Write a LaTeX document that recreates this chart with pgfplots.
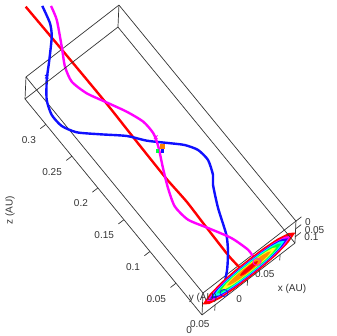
\documentclass[border=0pt]{standalone}
\usepackage{pgfplots}
\usepackage{fontspec}
\setmainfont{Liberation Sans}
\pgfplotsset{compat=1.18}
\definecolor{frame}{HTML}{333333}
\definecolor{cred}{HTML}{FF0000}
\definecolor{cblue}{HTML}{1010FF}
\definecolor{cmag}{HTML}{FF00FF}
\definecolor{ccyan}{HTML}{00FFFF}
\definecolor{cgreen}{HTML}{00FF40}
\definecolor{lev6}{HTML}{FFFF20}
\definecolor{lev7}{HTML}{FF9000}
\begin{document}
\begin{tikzpicture}[x=1pt,y=1pt]
\useasboundingbox (0,0) rectangle (336,336);
\begin{axis}[anchor=origin,at={(248.5pt,78.2pt)},
 x={(650pt,503pt)},y={(-7pt,-157pt)},z={(-520.6pt,635.3pt)},
 xmin=-0.07,xmax=0.073,ymin=0,ymax=0.14,zmin=0,zmax=0.34,
 axis lines=box,3d box=complete,clip=false,unbounded coords=jump,
 scaled ticks=false,
 axis line style={frame,line width=0.7pt},
 tick style={draw=none},tick align=outside,major tick length=7pt,
 xtick={-0.05,0,0.05},xticklabels={0.05,0,0.05},
 ytick={0,0.05,0.1},yticklabels={0,0.05,0.1},
 ztick={0,0.05,0.1,0.15,0.2,0.25,0.3},zticklabels={0,0.05,0.1,0.15,0.2,0.25,0.3},
 tick label style={font=\fontsize{10}{10}\selectfont,text=frame,inner sep=0pt},
 x tick label style={anchor=east,xshift=-5pt,yshift=-12pt},
 y tick label style={anchor=west,xshift=3.5pt,yshift=-5pt},
 z tick label style={anchor=east,xshift=-9.5pt,yshift=-8.5pt},
]
% tick marks
\addplot3[frame,line width=0.7pt,forget plot] coordinates {
(-0.05,0.14,0) (-0.05,0.177,0) (nan,nan,nan) (0,0.14,0) (0,0.177,0) (nan,nan,nan) (0.05,0.14,0) (0.05,0.177,0)};
\addplot3[frame,line width=0.7pt,forget plot] coordinates {
(0.073,0,0) (0.0815,0,0) (nan,nan,nan) (0.073,0.05,0) (0.0815,0.05,0) (nan,nan,nan) (0.073,0.1,0) (0.0815,0.1,0)};
\addplot3[frame,line width=0.7pt,forget plot] coordinates {
(-0.07,0.14,0.05) (-0.0785,0.14,0.05) (nan,nan,nan) (-0.07,0.14,0.1) (-0.0785,0.14,0.1) (nan,nan,nan)
(-0.07,0.14,0.15) (-0.0785,0.14,0.15) (nan,nan,nan) (-0.07,0.14,0.2) (-0.0785,0.14,0.2) (nan,nan,nan)
(-0.07,0.14,0.25) (-0.0785,0.14,0.25) (nan,nan,nan) (-0.07,0.14,0.3) (-0.0785,0.14,0.3)};
% curves, read off the projection (plane y=0.07)
\addplot3[cred,line width=2.4pt,smooth,tension=0.4] coordinates {
(-0.0071,0.07,0.4182) (-0.0062,0.07,0.3482) (-0.0057,0.07,0.2675) (-0.0066,0.07,0.2127)
(-0.0072,0.07,0.1664) (-0.0073,0.07,0.1445) (-0.0060,0.07,0.1100) (-0.0070,0.07,0.0777)
(-0.0082,0.07,0.0282) (-0.0071,0.07,0.0084) (-0.0070,0.07,0)};
\addplot3[cblue,line width=2.4pt,smooth,tension=0.4] coordinates {
(0.0091,0.07,0.4065) (0.0030,0.07,0.3841) (-0.0057,0.07,0.3699) (-0.0260,0.07,0.3492)
(-0.0438,0.07,0.3319) (-0.0593,0.07,0.3126) (-0.0661,0.07,0.2945) (-0.0652,0.07,0.2764)
(-0.0560,0.07,0.2592) (-0.0356,0.07,0.2399) (-0.0117,0.07,0.2183) (0.0035,0.07,0.1989)
(0.0217,0.07,0.1808) (0.0359,0.07,0.1664) (0.0446,0.07,0.1517) (0.0463,0.07,0.1346)
(0.0394,0.07,0.1164) (0.0319,0.07,0.1071) (0.0187,0.07,0.0809) (0.0059,0.07,0.0490)
(-0.0053,0.07,0.0318) (-0.0189,0.07,0.0162) (-0.0298,0.07,0.0064) (-0.0376,0.07,0.0011)};
\addplot3[cmag,line width=2.4pt,smooth,tension=0.4] coordinates {
(0.0173,0.07,0.4000) (0.0119,0.07,0.3822) (-0.0040,0.07,0.3528) (-0.0164,0.07,0.3311)
(-0.0216,0.07,0.3116) (-0.0165,0.07,0.2893) (-0.0057,0.07,0.2675) (0.0070,0.07,0.2417)
(0.0149,0.07,0.2197) (0.0154,0.07,0.2011) (0.0098,0.07,0.1845) (-0.0023,0.07,0.1605)
(-0.0130,0.07,0.1375) (-0.0208,0.07,0.1148) (-0.0186,0.07,0.0920) (-0.0062,0.07,0.0691)
(0.0080,0.07,0.0421) (0.0147,0.07,0.0184) (0.0140,0.07,0.0059) (0.0139,0.07,0)};
% filled contours on the floor
\addplot3[fill=cred,draw=none] coordinates {
(-0.0700,0.073,0) (-0.0593,0.0410,0) (-0.0414,0.0205,0) (-0.0200,0.0109,0) (0.0015,0.0090,0) (0.0230,0.0109,0) (0.0444,0.0205,0) (0.0623,0.0410,0)
(0.0730,0.073,0) (0.0623,0.1050,0) (0.0444,0.1255,0) (0.0230,0.1351,0) (0.0015,0.1370,0) (-0.0200,0.1351,0) (-0.0414,0.1255,0) (-0.0593,0.1050,0)} -- cycle;
\addplot3[fill=cmag,draw=none] coordinates {
(-0.0635,0.073,0) (-0.0538,0.0470,0) (-0.0375,0.0304,0) (-0.0180,0.0226,0) (0.0015,0.0210,0) (0.0210,0.0226,0) (0.0405,0.0304,0) (0.0568,0.0470,0)
(0.0665,0.073,0) (0.0568,0.0990,0) (0.0405,0.1156,0) (0.0210,0.1234,0) (0.0015,0.1250,0) (-0.0180,0.1234,0) (-0.0375,0.1156,0) (-0.0538,0.0990,0)} -- cycle;
\addplot3[fill=cblue,draw=none] coordinates {
(-0.0585,0.073,0) (-0.0495,0.0490,0) (-0.0345,0.0336,0) (-0.0165,0.0264,0) (0.0015,0.0250,0) (0.0195,0.0264,0) (0.0375,0.0336,0) (0.0525,0.0490,0)
(0.0615,0.073,0) (0.0525,0.0970,0) (0.0375,0.1124,0) (0.0195,0.1196,0) (0.0015,0.1210,0) (-0.0165,0.1196,0) (-0.0345,0.1124,0) (-0.0495,0.0970,0)} -- cycle;
\addplot3[fill=ccyan,draw=none] coordinates {
(-0.0535,0.073,0) (-0.0453,0.0510,0) (-0.0315,0.0369,0) (-0.0150,0.0303,0) (0.0015,0.0290,0) (0.0180,0.0303,0) (0.0345,0.0369,0) (0.0483,0.0510,0)
(0.0565,0.073,0) (0.0483,0.0950,0) (0.0345,0.1091,0) (0.0180,0.1157,0) (0.0015,0.1170,0) (-0.0150,0.1157,0) (-0.0315,0.1091,0) (-0.0453,0.0950,0)} -- cycle;
\addplot3[fill=cgreen,draw=none] coordinates {
(-0.0485,0.073,0) (-0.0410,0.0555,0) (-0.0285,0.0443,0) (-0.0135,0.0390,0) (0.0015,0.0380,0) (0.0165,0.0390,0) (0.0315,0.0443,0) (0.0440,0.0555,0)
(0.0515,0.073,0) (0.0440,0.0905,0) (0.0315,0.1017,0) (0.0165,0.1070,0) (0.0015,0.1080,0) (-0.0135,0.1070,0) (-0.0285,0.1017,0) (-0.0410,0.0905,0)} -- cycle;
\addplot3[fill=lev6,draw=none] coordinates {
(-0.0405,0.073,0) (-0.0342,0.0580,0) (-0.0237,0.0484,0) (-0.0111,0.0439,0) (0.0015,0.0430,0) (0.0141,0.0439,0) (0.0267,0.0484,0) (0.0372,0.0580,0)
(0.0435,0.073,0) (0.0372,0.0880,0) (0.0267,0.0976,0) (0.0141,0.1021,0) (0.0015,0.1030,0) (-0.0111,0.1021,0) (-0.0237,0.0976,0) (-0.0342,0.0880,0)} -- cycle;
\addplot3[fill=lev7,draw=none] coordinates {
(-0.0325,0.073,0) (-0.0274,0.0610,0) (-0.0189,0.0533,0) (-0.0087,0.0497,0) (0.0015,0.0490,0) (0.0117,0.0497,0) (0.0219,0.0533,0) (0.0304,0.0610,0)
(0.0355,0.073,0) (0.0304,0.0850,0) (0.0219,0.0927,0) (0.0117,0.0963,0) (0.0015,0.0970,0) (-0.0087,0.0963,0) (-0.0189,0.0927,0) (-0.0274,0.0850,0)} -- cycle;
\addplot3[fill=cred,draw=none] coordinates {
(-0.0125,0.073,0) (-0.0104,0.0645,0) (-0.0069,0.0591,0) (-0.0027,0.0565,0) (0.0015,0.0560,0) (0.0057,0.0565,0) (0.0099,0.0591,0) (0.0134,0.0645,0)
(0.0155,0.073,0) (0.0134,0.0815,0) (0.0099,0.0869,0) (0.0057,0.0895,0) (0.0015,0.0900,0) (-0.0027,0.0895,0) (-0.0069,0.0869,0) (-0.0104,0.0815,0)} -- cycle;
% small rings on the floor
\addplot3[cblue,line width=0.7pt] coordinates {
(-0.0301,0.1272,0) (-0.0322,0.1050,0) (-0.0367,0.0841,0) (-0.0412,0.0767,0) (-0.0429,0.0872,0) (-0.0408,0.1094,0) (-0.0363,0.1303,0) (-0.0318,0.1377,0)} -- cycle;
\addplot3[cmag,line width=0.7pt] coordinates {
(0.0203,0.0911,0) (0.0182,0.0689,0) (0.0136,0.0480,0) (0.0092,0.0406,0) (0.0075,0.0511,0) (0.0096,0.0733,0) (0.0142,0.0942,0) (0.0186,0.1016,0)} -- cycle;
% markers
\addplot3[only marks,mark=x,mark size=2.5pt,cblue,line width=0.8pt] coordinates {(-0.0413,0.07,0.3351)};
\addplot3[only marks,mark=x,mark size=2.5pt,cmag,line width=0.8pt] coordinates {(0.0146,0.07,0.1955)};
\addplot3[only marks,mark=square*,mark size=1.3pt,cgreen,draw=cgreen] coordinates {(0.0057,0.07,0.1814)};
\addplot3[only marks,mark=square*,mark size=1.8pt,orange,draw=orange] coordinates {(0.0137,0.07,0.1817)};
\addplot3[only marks,mark=square*,mark size=1.3pt,cblue] coordinates {(0.0103,0.07,0.1780)};
\end{axis}
\node[rotate=90,font=\fontsize{10}{10}\selectfont,text=frame] at (10,126) {z (AU)};
\node[font=\fontsize{10}{10}\selectfont,text=frame] at (292,47) {x (AU)};
\node[font=\fontsize{10}{10}\selectfont,text=frame] at (203,38) {y (AU)};
\end{tikzpicture}
\end{document}
